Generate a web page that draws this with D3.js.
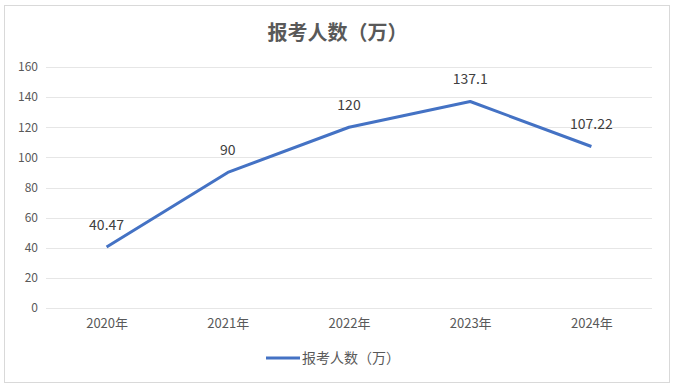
<!DOCTYPE html>
<html>
<head>
<meta charset="utf-8">
<script src="https://cdn.jsdelivr.net/npm/d3@7"></script>
<style>
    body { margin: 0; background: #fff; }
    text { font-family: "Microsoft YaHei", "Noto Sans CJK SC", "Noto Sans", sans-serif; }
</style>
</head>
<body>
<svg id="chart" width="675" height="388"></svg>
<script>
// Data
const years = ['2020年', '2021年', '2022年', '2023年', '2024年'];
const applicants = [40.47, 90, 120, 137.1, 107.22];
const yTicks = [0, 20, 40, 60, 80, 100, 120, 140, 160];
const seriesName = '报考人数（万）';

const margin = { top: 67, right: 23, bottom: 80, left: 46 },
    visWidth = 675, visHeight = 388,
    width = visWidth - margin.left - margin.right,
    height = visHeight - margin.top - margin.bottom;

const lineColor = '#4472C4',
    textColor = '#595959',
    gridColor = '#e6e6e6';

const svg = d3.select('#chart');

// Outer frame
svg.append('rect')
    .attr('x', 4.5).attr('y', 5.5)
    .attr('width', 665).attr('height', 377)
    .style('fill', '#fff')
    .style('stroke', '#d9d9d9');

// Title
svg.append('text')
    .attr('x', visWidth / 2).attr('y', 40)
    .attr('text-anchor', 'middle')
    .style('font-size', '20px')
    .style('font-weight', 'bold')
    .style('fill', textColor)
    .text(seriesName);

const g = svg.append('g').attr('transform', 'translate(' + margin.left + ',' + margin.top + ')');

const x = d3.scalePoint().domain(years).range([0, width]).padding(0.5);
const y = d3.scaleLinear().domain([0, 160]).range([height, 0]);

// Grid lines
g.append('g').attr('class', 'grid')
    .selectAll('line').data(yTicks).enter().append('line')
        .attr('x1', 0).attr('x2', width)
        .attr('y1', d => Math.round(y(d)) + 0.5)
        .attr('y2', d => Math.round(y(d)) + 0.5)
        .style('stroke', gridColor);

// Y axis labels
const yAxis = g.append('g')
    .call(d3.axisLeft(y).tickValues(yTicks).tickSize(0).tickPadding(8));
yAxis.select('.domain').remove();
yAxis.selectAll('text')
    .style('font-size', '12px')
    .style('fill', textColor)
    .style('font-family', '"Microsoft YaHei", "Noto Sans CJK SC", sans-serif');

// X axis labels
const xAxis = g.append('g')
    .attr('transform', 'translate(0,' + height + ')')
    .call(d3.axisBottom(x).tickSize(0).tickPadding(11));
xAxis.select('.domain').remove();
xAxis.selectAll('text')
    .style('font-size', '13px')
    .style('fill', textColor)
    .style('font-family', '"Microsoft YaHei", "Noto Sans CJK SC", sans-serif');

// Line
const line = d3.line()
    .x((d, i) => x(years[i]))
    .y(d => y(d));

g.append('path')
    .datum(applicants)
    .attr('d', line)
    .style('fill', 'none')
    .style('stroke', lineColor)
    .style('stroke-width', 3)
    .style('stroke-linejoin', 'round');

// Data labels
g.append('g').selectAll('text').data(applicants).enter().append('text')
    .attr('x', (d, i) => x(years[i]))
    .attr('y', d => y(d) - 17)
    .attr('text-anchor', 'middle')
    .style('font-size', '14px')
    .style('fill', '#404040')
    .text(d => d);

// Legend
const legend = svg.append('g').attr('transform', 'translate(266,358)');
legend.append('line')
    .attr('x1', 0).attr('x2', 34)
    .style('stroke', lineColor)
    .style('stroke-width', 3);
legend.append('text')
    .attr('x', 36).attr('y', 5)
    .style('font-size', '14px')
    .style('fill', textColor)
    .text(seriesName);
</script>
</body>
</html>
